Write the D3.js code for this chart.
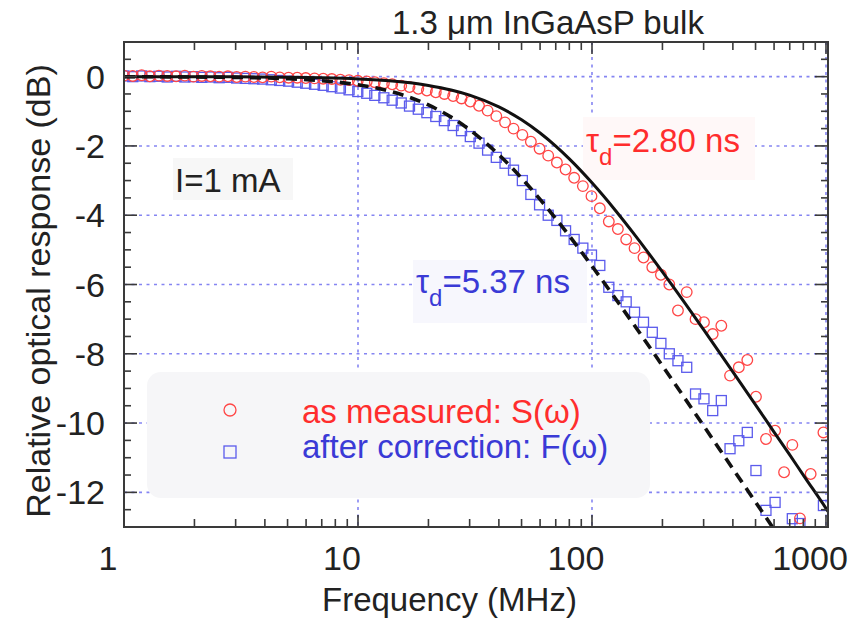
<!DOCTYPE html>
<html lang="en">
<head>
<meta charset="utf-8">
<title>1.3 um InGaAsP bulk</title>
<script src="https://d3js.org/d3.v7.min.js"></script>
<style>
body { margin: 0; background: #fff; }
text { font-family: "Liberation Sans", Arial, sans-serif; }
.grid line { stroke: #8585f2; stroke-width: 1.6; stroke-dasharray: 3,4.5; }
.frame { fill: none; stroke: #3a3a3a; stroke-width: 2; }
.tick { stroke: #3a3a3a; stroke-width: 1.6; }
</style>
</head>
<body>
<svg width="859" height="619"></svg>
<script>

// ---- data ----
var freqMHz = [1.00,1.09,1.19,1.29,1.41,1.53,1.67,1.82,1.98,2.15,2.34,2.55,2.78,3.03,3.30,3.59,3.91,4.26,4.63,5.05,
  5.50,5.98,6.52,7.10,7.73,8.41,9.16,9.98,10.9,11.8,12.9,14.0,15.3,16.6,18.1,19.7,21.5,23.4,25.5,27.7,
  30.2,32.9,35.8,39.0,42.5,46.2,50.4,54.8,59.7,65.0,70.8,77.1,83.9,91.4,99.5,108,118,129,140,152,
  166,181,197,214,233,254,277,301,328,357,389,424,461,502,554,606,662,718,774,860,975];

// as measured: S(w)
var measuredS = [0.03,0.02,0.04,0.01,0.03,0.02,0.01,0.03,0.00,0.02,0.01,0.00,0.01,-0.01,0.00,-0.01,-0.02,0.00,-0.02,-0.03,
  -0.03,-0.04,-0.05,-0.06,-0.07,-0.09,-0.10,-0.12,-0.14,-0.16,-0.19,-0.22,-0.26,-0.30,-0.35,-0.40,-0.45,-0.50,-0.56,-0.63,
  -0.72,-0.84,-0.98,-1.14,-1.32,-1.50,-1.68,-1.88,-2.08,-2.28,-2.48,-2.68,-2.92,-3.16,-3.45,-3.80,-4.18,-4.40,-4.70,-4.95,
  -5.22,-5.50,-5.72,-6.00,-6.75,-6.22,-7.00,-7.09,-7.43,-7.19,-8.63,-8.39,-8.18,-9.24,-10.46,-10.22,-11.42,-10.63,-12.75,-11.47,-10.27];

// after correction: F(w)
var correctedF = [0.02,0.00,0.02,0.00,0.01,-0.01,0.01,-0.01,0.00,-0.02,-0.01,-0.03,-0.02,-0.04,-0.05,-0.06,-0.07,-0.09,-0.11,-0.13,
  -0.16,-0.19,-0.22,-0.25,-0.29,-0.33,-0.38,-0.43,-0.48,-0.54,-0.61,-0.68,-0.76,-0.85,-0.94,-1.04,-1.15,-1.27,-1.41,-1.56,
  -1.73,-1.92,-2.12,-2.33,-2.50,-2.70,-3.00,-3.40,-3.70,-4.00,-4.15,-4.45,-4.70,-4.95,-5.15,-5.45,-6.08,-6.32,-6.50,-6.80,
  -7.09,-7.38,-7.70,-8.00,-8.20,-8.39,-9.16,-9.30,-9.64,-9.35,-10.74,-10.51,-10.27,-11.37,-12.52,-12.29,-13.30,-12.76,-12.90,-13.40,-12.38];

// fitted curves (tau_d = 2.80 ns solid, 5.37 ns dashed)
var fitFreq = [1,2,3,5,7,10,14,20,25,30,40,50,60,70,80,100,125,150,200,250,300,400,500,600,700,800,1000,1100];
var fitS = [0.00,-0.003,-0.006,-0.017,-0.033,-0.066,-0.128,-0.254,-0.384,-0.534,-0.875,-1.246,-1.628,-2.006,-2.374,-3.064,
  -3.833,-4.509,-5.636,-6.545,-7.304,-8.521,-9.474,-10.26,-10.92,-11.50,-12.46,-12.88];
var fitF = [-0.002,-0.010,-0.022,-0.061,-0.118,-0.235,-0.438,-0.817,-1.169,-1.535,-2.256,-2.929,-3.542,-4.096,-4.597,-5.469,
  -6.375,-7.131,-8.345,-9.297,-10.08,-11.32,-12.28,-13.07,-13.74,-14.32,-15.29,-15.70];

var xMajor = [1,10,100,1000];
var xMinor = [2,3,4,5,6,7,8,9,20,30,40,50,60,70,80,90,200,300,400,500,600,700,800,900];
var yMajor = [0,-2,-4,-6,-8,-10,-12];
// ------------------------------------

var svg = d3.select("svg");
var pLeft = 124, pRight = 828, pTop = 42, pBottom = 527;

var x = d3.scaleLog().domain([1, 1020]).range([pLeft, pRight]);
var y = d3.scaleLinear().domain([-13, 1]).range([pBottom, pTop]);

svg.append("rect").attr("width", 859).attr("height", 619).attr("fill", "#fff");

// grid
var grid = svg.append("g").attr("class", "grid");
grid.selectAll(".gx").data(xMajor).enter().append("line")
  .attr("x1", d => x(d)).attr("x2", d => x(d)).attr("y1", pTop).attr("y2", pBottom);
grid.selectAll(".gy").data(yMajor).enter().append("line")
  .attr("x1", pLeft).attr("x2", pRight).attr("y1", d => y(d)).attr("y2", d => y(d));

// label boxes (they hide the grid)
svg.append("rect").attr("x", 147).attr("y", 372).attr("width", 503).attr("height", 126)
  .attr("rx", 14).attr("fill", "#f6f6f8");
svg.append("rect").attr("x", 173).attr("y", 158).attr("width", 120).attr("height", 42).attr("fill", "#f7f7f7");
svg.append("rect").attr("x", 583).attr("y", 117).attr("width", 172).attr("height", 63).attr("fill", "#fff8f8");
svg.append("rect").attr("x", 413).attr("y", 260).attr("width", 174).attr("height", 63).attr("fill", "#f7f7fd");

// data
svg.append("clipPath").attr("id", "plotclip").append("rect")
  .attr("x", pLeft).attr("y", pTop).attr("width", pRight - pLeft).attr("height", pBottom - pTop);
var plot = svg.append("g").attr("clip-path", "url(#plotclip)");

plot.selectAll(".sq").data(freqMHz).enter().append("rect")
  .attr("x", (d, i) => x(d) - 5).attr("y", (d, i) => y(correctedF[i]) - 5)
  .attr("width", 10).attr("height", 10)
  .attr("fill", "none").attr("stroke", "#5b5bec").attr("stroke-width", 1.3);

plot.selectAll(".ci").data(freqMHz).enter().append("circle")
  .attr("cx", d => x(d)).attr("cy", (d, i) => y(measuredS[i])).attr("r", 5.3)
  .attr("fill", "none").attr("stroke", "#ff4646").attr("stroke-width", 1.3);

var line = d3.line().x(d => x(d[0])).y(d => y(d[1])).curve(d3.curveMonotoneX);

plot.append("path").datum(fitFreq.map((f, i) => [f, fitF[i]]))
  .attr("d", line).attr("fill", "none").attr("stroke", "#111")
  .attr("stroke-width", 3.6).attr("stroke-dasharray", "11,7");
plot.append("path").datum(fitFreq.map((f, i) => [f, fitS[i]]))
  .attr("d", line).attr("fill", "none").attr("stroke", "#111").attr("stroke-width", 3);

// frame + inward ticks on all sides
svg.append("rect").attr("class", "frame").attr("x", pLeft).attr("y", pTop)
  .attr("width", pRight - pLeft).attr("height", pBottom - pTop);

var ticks = svg.append("g");
function xTick(v, len) {
  ticks.append("line").attr("class", "tick").attr("x1", x(v)).attr("x2", x(v)).attr("y1", pBottom).attr("y2", pBottom - len);
  ticks.append("line").attr("class", "tick").attr("x1", x(v)).attr("x2", x(v)).attr("y1", pTop).attr("y2", pTop + len);
}
function yTick(v, len) {
  ticks.append("line").attr("class", "tick").attr("x1", pLeft).attr("x2", pLeft + len).attr("y1", y(v)).attr("y2", y(v));
  ticks.append("line").attr("class", "tick").attr("x1", pRight).attr("x2", pRight - len).attr("y1", y(v)).attr("y2", y(v));
}
xMajor.forEach(v => xTick(v, 12));
xMinor.forEach(v => xTick(v, 8));
d3.range(-13, 1.01, 0.5).forEach(v => yTick(v, yMajor.indexOf(v) >= 0 ? 13 : 7));

// tick labels
svg.selectAll(".xl").data(xMajor).enter().append("text")
  .attr("x", d => x(d) - 16).attr("y", 570).attr("text-anchor", "middle")
  .attr("font-size", 34).attr("fill", "#222").text(d => d);
svg.selectAll(".yl").data(yMajor).enter().append("text")
  .attr("x", 105).attr("y", d => y(d) + 12).attr("text-anchor", "end")
  .attr("font-size", 34).attr("fill", "#222").text(d => d);

// titles
svg.append("text").attr("x", 392).attr("y", 34).attr("font-size", 33).attr("fill", "#222")
  .text("1.3 \u03bcm InGaAsP bulk");
svg.append("text").attr("x", 322).attr("y", 611).attr("font-size", 33).attr("fill", "#222")
  .text("Frequency (MHz)");
svg.append("text").attr("transform", "translate(50,291) rotate(-90)").attr("text-anchor", "middle")
  .attr("font-size", 34).attr("fill", "#222").text("Relative optical response (dB)");

svg.append("text").attr("x", 175).attr("y", 192).attr("font-size", 33).attr("fill", "#222").text("I=1 mA");

function tauLabel(x0, y0, val, col) {
  var t = svg.append("text").attr("x", x0).attr("y", y0).attr("font-size", 33).attr("fill", col);
  t.append("tspan").text("\u03c4");
  t.append("tspan").attr("font-size", 24).attr("dy", 13).text("d");
  t.append("tspan").attr("dy", -13).text("=" + val + " ns");
}
tauLabel(586, 152, "2.80", "#ff2d2d");
tauLabel(416, 293, "5.37", "#3a3ad6");

// legend
svg.append("circle").attr("cx", 230).attr("cy", 410).attr("r", 6)
  .attr("fill", "none").attr("stroke", "#ff4646").attr("stroke-width", 1.3);
svg.append("rect").attr("x", 224).attr("y", 446).attr("width", 12).attr("height", 12)
  .attr("fill", "none").attr("stroke", "#5b5bec").attr("stroke-width", 1.3);
svg.append("text").attr("x", 302).attr("y", 423).attr("font-size", 33).attr("fill", "#ff2d2d")
  .text("as measured: S(\u03c9)");
svg.append("text").attr("x", 302).attr("y", 458).attr("font-size", 33).attr("fill", "#3a3ad6")
  .text("after correction: F(\u03c9)");

</script>
</body>
</html>
